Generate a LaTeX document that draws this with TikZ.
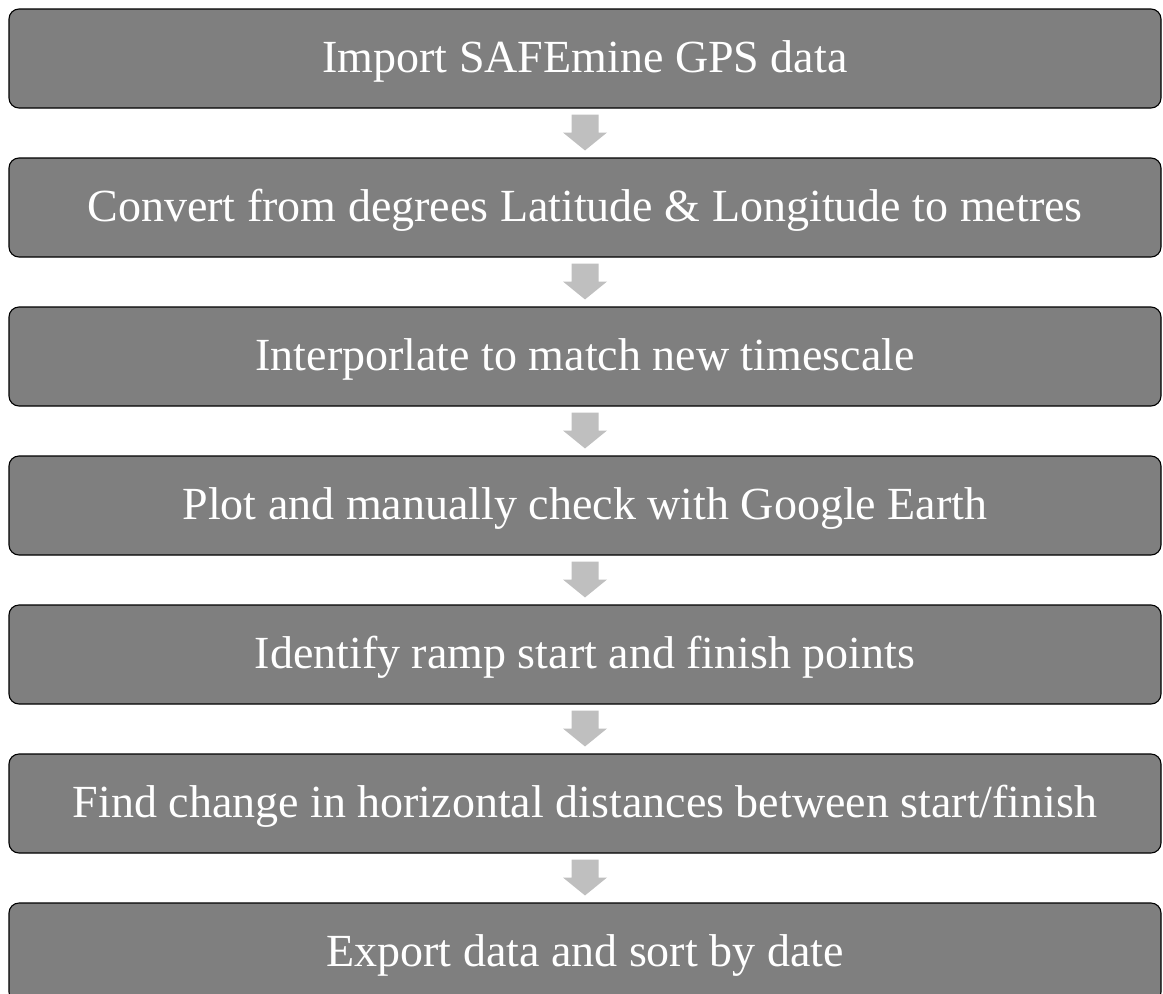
\documentclass[tikz,border=0pt]{standalone}
\usepackage{fontspec}
\setmainfont{Liberation Serif}
\usetikzlibrary{calc}
\definecolor{boxgray}{HTML}{7F7F7F}
\definecolor{arrowgray}{HTML}{BFBFBF}
\begin{document}
\begin{tikzpicture}[x=1pt,y=-1pt,
  stepbox/.style={draw=black, line width=1.1pt, fill=boxgray, rounded corners=10pt,
    minimum width=1152pt, minimum height=99pt, inner sep=0pt, text=white,
    font=\fontsize{46}{50}\selectfont, text height=28pt, text depth=0pt},
  blockarrow/.style={fill=arrowgray, draw=none}]
\useasboundingbox (0,0) rectangle (1163,994);
\clip (0,0) rectangle (1163,994);
\node[stepbox] (b1) at (585,58.5) {Import SAFEmine GPS data};
\node[stepbox] (b2) at (585,207.5) {Convert from degrees Latitude \& Longitude to metres};
\node[stepbox] (b3) at (585,356.5) {Interporlate to match new timescale};
\node[stepbox] (b4) at (585,505.5) {Plot and manually check with Google Earth};
\node[stepbox] (b5) at (585,654.5) {Identify ramp start and finish points};
\node[stepbox] (b6) at (585,803.5) {Find change in horizontal distances between start/finish};
\node[stepbox] (b7) at (585,952.5) {Export data and sort by date};
\foreach \a/\b in {b1/b2,b2/b3,b3/b4,b4/b5,b5/b6,b6/b7}{
  \fill[blockarrow] ($(\a.south)+(-13.5,6)$) -- ($(\a.south)+(13.5,6)$)
    -- ($(\a.south)+(13.5,24)$) -- ($(\a.south)+(22,24)$)
    -- ($(\b.north)+(0,-7)$)
    -- ($(\a.south)+(-22,24)$) -- ($(\a.south)+(-13.5,24)$) -- cycle;
}
\end{tikzpicture}
\end{document}
